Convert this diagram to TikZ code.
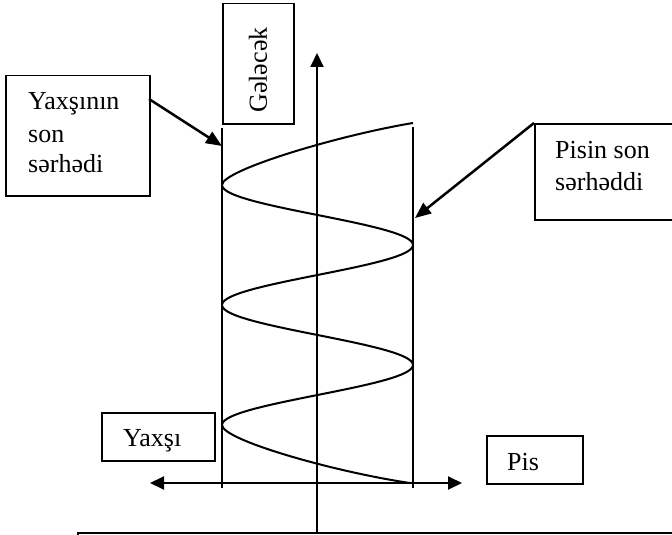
\documentclass[tikz,border=0pt]{standalone}
\usepackage{fontspec}
\setmainfont{Liberation Serif}
\usetikzlibrary{arrows.meta}
\newcommand\txtfont{\fontsize{26}{31}\selectfont}
\begin{document}
\begin{tikzpicture}[x=1pt,y=-1pt,
  box/.style={draw, line width=1.5pt, inner sep=0pt, anchor=north west},
  lbl/.style={anchor=base west, inner sep=0pt, font=\txtfont},
  axisarrow/.style={line width=2pt, -{Triangle[length=14pt,width=13pt]}},
  bothaxis/.style={line width=2pt, {Triangle[length=14pt,width=13pt]}-{Triangle[length=14pt,width=13pt]}},
  callout/.style={line width=2.5pt, -{Triangle[length=16pt,width=13pt]}},
  limitline/.style={line width=1.8pt},
  wave/.style={line width=2pt, line join=round}]
\useasboundingbox (0,0) rectangle (672,535);
\begin{scope}
\clip (0,0) rectangle (672,535);
% boxes
\node[box, minimum width=144pt, minimum height=120pt] (yb) at (5,75) {};
\node[box, minimum width=71pt, minimum height=120pt] (gb) at (222,3) {};
\node[box, minimum width=200pt, minimum height=96pt] (pb) at (534,123) {};
\node[box, minimum width=113pt, minimum height=48pt] (yx) at (101,412) {};
\node[box, minimum width=96pt, minimum height=48pt] (ps) at (486,435) {};
\node[box, minimum width=650pt, minimum height=60pt] (bb) at (77,532) {};
% texts
\node[lbl] (t1) at (28,110) {Yaxşının};
\node[lbl] (t2) at (28,142) {son};
\node[lbl] (t3) at (28,172) {sərhədi};
\node[lbl] (t4) at (555,158) {Pisin son};
\node[lbl] (t5) at (555,190) {sərhəddi};
\node[lbl] (t6) at (123,446) {Yaxşı};
\node[lbl] (t7) at (507,470) {Pis};
\node[inner sep=0pt, font=\txtfont, rotate=90] (t8) at (258,70) {Gələcək};
% coordinates
\coordinate (lt) at (222,128);
\coordinate (lb) at (222,488);
\coordinate (rt) at (413,127);
\coordinate (rb) at (413,488);
\coordinate (ax0) at (317,532);
\coordinate (ax1) at (317,53);
\coordinate (hl) at (150,483);
\coordinate (hr) at (462,483);
\coordinate (ya) at (149,99);
\coordinate (yt) at (222,146);
\coordinate (pt) at (415,218);
% limit lines
\draw[limitline] (lt) -- (lb);
\draw[limitline] (rt) -- (rb);
% axes
\draw[axisarrow] (ax0) -- (ax1);
\draw[bothaxis] (hl) -- (hr);
% wave
\draw[wave] (413,123) .. controls (340,135) and (222,170) .. (222,185)
  -- plot[domain=185:425, samples=121, smooth] ({317.5-95.5*cos(3*(\x-185))}, \x)
  .. controls (222,440) and (335,472) .. (410,483);
% callouts
\draw[callout] (ya) -- (yt);
\draw[callout] (pb.north west) -- (pt);
\end{scope}
\end{tikzpicture}
\end{document}
